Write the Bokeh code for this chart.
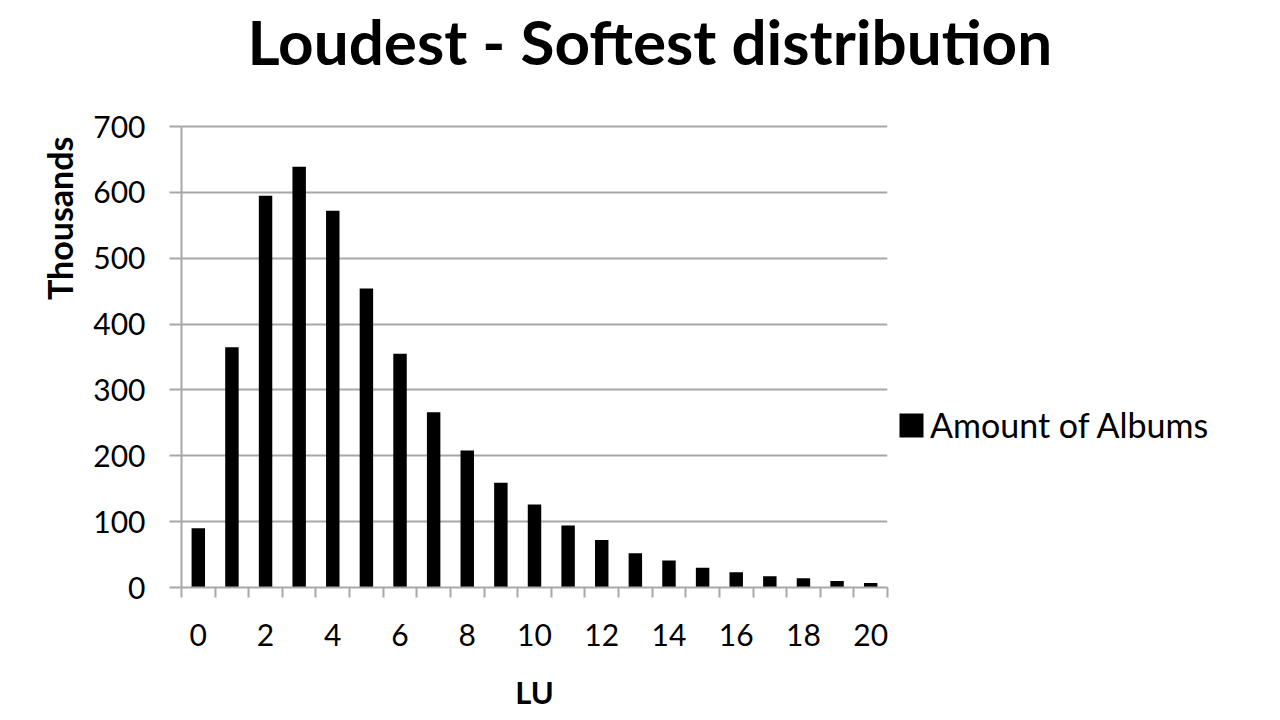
from bokeh.plotting import figure
from bokeh.models import Range1d, FixedTicker, Legend, LegendItem, ColumnDataSource, Title
from bokeh.embed import file_html
from bokeh.resources import INLINE

# ---- data ----
lu_values = list(range(21))
albums_thousands = [90, 365, 595, 639, 572, 454, 355, 266, 208, 159, 126,
                    94, 72, 52, 41, 30, 23, 17, 14, 10, 7]
x_tick_labels = [0, 2, 4, 6, 8, 10, 12, 14, 16, 18, 20]
y_tick_labels = [0, 100, 200, 300, 400, 500, 600, 700]
series_name = "Amount of Albums"
title_text = "Loudest - Softest distribution"
y_title = "Thousands"
x_title = "LU"

FONT = "Lato"
GRAY = "#a8a8a8"

# the frame reaches above the 700 line (empty space) so the title can sit high
p = figure(frame_width=706, frame_height=509, output_backend="svg", toolbar_location=None,
           x_range=Range1d(-0.5, 20.5), y_range=Range1d(0, 772.9),
           min_border_left=181, min_border_right=377,
           min_border_top=76, min_border_bottom=117)
p.outline_line_color = None
p.background_fill_color = "white"
p.border_fill_color = "white"

# title
p.title.text = title_text
p.title.text_font = FONT
p.title.text_font_style = "bold"
p.title.text_font_size = "62px"
p.title.align = "left"
p.title.vertical_align = "bottom"
p.title.offset = 66
p.title.standoff = 2
p.title.text_color = "black"

src = ColumnDataSource(dict(x=lu_values, y=albums_thousands))
bars = p.vbar(x="x", top="y", width=0.4, bottom=0, source=src,
              fill_color="black", line_color=None)

# grid
p.xgrid.grid_line_color = None
p.ygrid.grid_line_color = GRAY
p.ygrid.grid_line_width = 2
p.ygrid.ticker = FixedTicker(ticks=y_tick_labels)

# y axis
ya = p.yaxis[0]
ya.ticker = FixedTicker(ticks=y_tick_labels)
ya.bounds = (0, 700)
ya.axis_line_color = GRAY
ya.axis_line_width = 2
ya.major_tick_line_color = GRAY
ya.major_tick_line_width = 2
ya.major_tick_out = 12
ya.major_tick_in = 0
ya.minor_tick_line_color = None
ya.major_label_text_font = FONT
ya.major_label_text_font_size = "30px"
ya.major_label_text_color = "black"
ya.major_label_standoff = 24

# x axis
xa = p.xaxis[0]
xa.ticker = FixedTicker(ticks=x_tick_labels, minor_ticks=[i - 0.5 for i in range(22)])
xa.axis_line_color = GRAY
xa.axis_line_width = 2
xa.major_tick_line_color = None
xa.major_tick_out = 0
xa.major_tick_in = 0
xa.minor_tick_line_color = GRAY
xa.minor_tick_line_width = 2
xa.minor_tick_out = 10
xa.minor_tick_in = 0
xa.major_label_text_font = FONT
xa.major_label_text_font_size = "30px"
xa.major_label_text_color = "black"
xa.major_label_standoff = 26
xa.axis_label = x_title
xa.axis_label_text_font = FONT
xa.axis_label_text_font_style = "bold"
xa.axis_label_text_font_size = "31px"
xa.axis_label_text_color = "black"
xa.axis_label_standoff = 24

# y axis title, placed toward the top like the reference
ytitle = Title(text=y_title, align="right", offset=58, standoff=21,
               text_font=FONT, text_font_style="bold", text_font_size="34px",
               text_color="black")
p.add_layout(ytitle, "left")

# legend to the right of the plot
legend = Legend(items=[LegendItem(label=series_name, renderers=[bars])],
                location=(9, 142), orientation="vertical",
                glyph_width=30, glyph_height=30, label_standoff=4,
                label_text_font=FONT, label_text_font_size="34px",
                label_text_color="black", padding=0, margin=0,
                border_line_color=None, background_fill_alpha=0)
p.add_layout(legend, "right")

open("out.html", "w").write(file_html(p, INLINE))
